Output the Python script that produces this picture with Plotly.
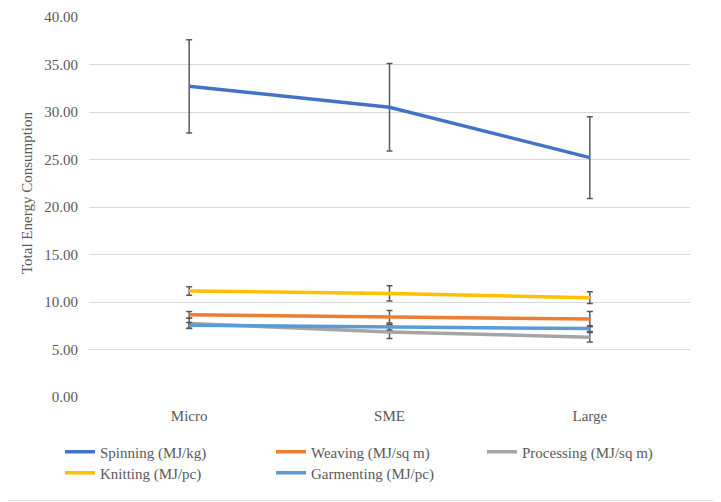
import plotly.graph_objects as go

categories = ["Micro", "SME", "Large"]

spinning = [32.7, 30.5, 25.2]
spinning_err = [4.9, 4.6, 4.3]
weaving = [8.65, 8.45, 8.2]
weaving_err = [0.35, 0.65, 0.8]
processing = [7.75, 6.85, 6.3]
processing_err = [0.55, 0.7, 0.5]
knitting = [11.15, 10.9, 10.45]
knitting_err = [0.45, 0.8, 0.62]
garmenting = [7.55, 7.35, 7.2]
garmenting_err = [0.3, 0.3, 0.3]

names = ["Spinning (MJ/kg)", "Weaving (MJ/sq m)", "Processing (MJ/sq m)",
         "Knitting (MJ/pc)", "Garmenting (MJ/pc)"]
colors = ["#4472C4", "#ED7D31", "#A5A5A5", "#FFC000", "#5B9BD5"]
values = [spinning, weaving, processing, knitting, garmenting]
errors = [spinning_err, weaving_err, processing_err, knitting_err, garmenting_err]
legends = ["legend", "legend", "legend", "legend2", "legend2"]

# page body has an 8px margin, so the figure is drawn 8px smaller
OFF = 8
W, H = 721 - OFF, 502 - OFF
L, R, T, B = 89 - OFF, 31, 9, 105
pw, ph = W - L - R, H - T - B

FONT = "Liberation Serif, Times New Roman, serif"
TXT = "#595959"

fig = go.Figure()
for name, col, v, e, lg in zip(names, colors, values, errors, legends):
    fig.add_trace(go.Scatter(
        x=categories, y=v, name=name, mode="lines",
        line=dict(color=col, width=3.5),
        error_y=dict(type="data", array=e, visible=True, color="#595959",
                     thickness=1.5, width=3),
        legend=lg,
    ))

leg_x = (60 - OFF - L) / pw
common_leg = dict(orientation="h", x=leg_x, xanchor="left", yanchor="middle",
                  entrywidth=166, entrywidthmode="pixels",
                  font=dict(family=FONT, size=15, color=TXT),
                  itemwidth=30, bgcolor="rgba(0,0,0,0)", tracegroupgap=0)

fig.update_layout(
    width=W, height=H,
    margin=dict(l=L, r=R, t=T, b=B, autoexpand=False),
    paper_bgcolor="white", plot_bgcolor="white",
    font=dict(family=FONT, size=15, color=TXT),
    showlegend=True,
    legend=dict(common_leg, y=-(453 - OFF - 1 - T - ph) / ph),
    legend2=dict(common_leg, y=-(474 - OFF - 1 - T - ph) / ph),
    xaxis=dict(type="category", range=[-0.5, 2.5], showgrid=False,
               showline=False, zeroline=False, ticks="",
               ticklabelstandoff=8,
               tickfont=dict(family=FONT, size=15, color=TXT)),
    yaxis=dict(range=[0, 40], dtick=5, tickformat=".2f", showgrid=True,
               gridcolor="#D9D9D9", gridwidth=1, zeroline=False,
               showline=False, ticks="", ticklabelstandoff=10,
               ticklabeloverflow="allow",
               tickfont=dict(family=FONT, size=15, color=TXT)),
    annotations=[dict(text="Total Energy Consumption", textangle=-90,
                      xref="paper", yref="paper", x=(27 - OFF - L) / pw,
                      y=1 - (193 - OFF - T) / ph,
                      xanchor="center", yanchor="middle", showarrow=False,
                      font=dict(family=FONT, size=15, color=TXT))],
    shapes=[dict(type="rect", xref="paper", yref="paper",
                 x0=(-20 - L) / pw, x1=(W - 1.5 - L) / pw,
                 y0=-(H - 1.5 - T - ph) / ph, y1=1 + (T + 20) / ph,
                 line=dict(color="#D9D9D9", width=1), layer="below")],
)

fig.write_html("out.html")
